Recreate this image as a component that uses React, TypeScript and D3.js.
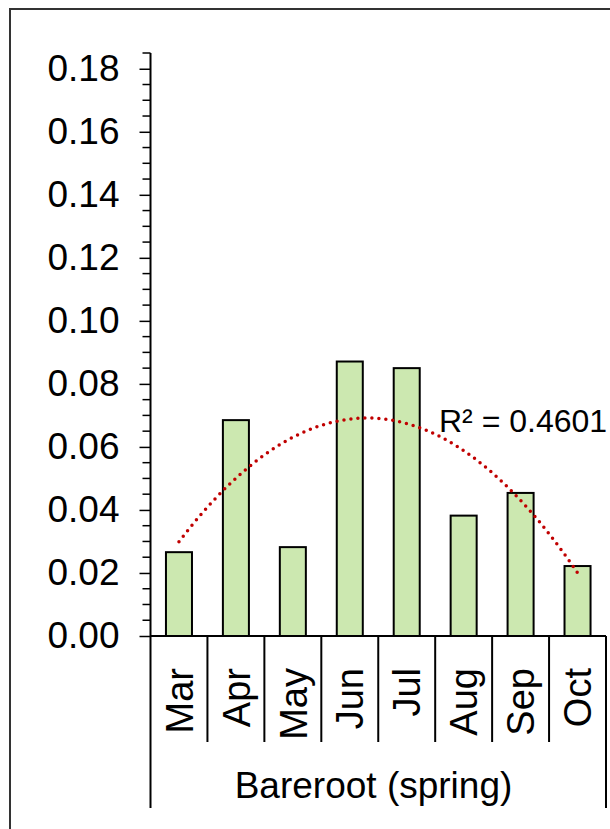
import React, { useEffect, useRef } from 'react';
import * as d3 from 'd3';

const months = ['Mar', 'Apr', 'May', 'Jun', 'Jul', 'Aug', 'Sep', 'Oct'];
const values = [0.0266, 0.0685, 0.0282, 0.0871, 0.085, 0.0382, 0.0454, 0.0222];
const yMajorTicks = [0, 0.02, 0.04, 0.06, 0.08, 0.1, 0.12, 0.14, 0.16, 0.18];
const yMinorStep = 0.005;
const yMax = 0.185;
const groupLabel = 'Bareroot (spring)';
const r2Label = 'R\u00b2 = 0.4601';

const FONT = '"Liberation Sans", Arial, sans-serif';

// least squares fit of a 2nd order polynomial (what the spreadsheet trendline does)
function polyFit2(xs: number[], ys: number[]) {
    const s = (f: (x: number, y: number) => number) => d3.sum(xs, (x, i) => f(x, ys[i]));
    const m = [
        [xs.length, s(x => x), s(x => x * x), s((x, y) => y)],
        [s(x => x), s(x => x * x), s(x => x ** 3), s((x, y) => x * y)],
        [s(x => x * x), s(x => x ** 3), s(x => x ** 4), s((x, y) => x * x * y)],
    ];
    for (let i = 0; i < 3; i++) {
        for (let k = i + 1; k < 3; k++) {
            const f = m[k][i] / m[i][i];
            for (let j = i; j < 4; j++) m[k][j] -= f * m[i][j];
        }
    }
    const c = [0, 0, 0];
    for (let i = 2; i >= 0; i--) {
        let v = m[i][3];
        for (let j = i + 1; j < 3; j++) v -= m[i][j] * c[j];
        c[i] = v / m[i][i];
    }
    return (x: number) => c[0] + c[1] * x + c[2] * x * x;
}

const App: React.FC = () => {
    const svgRef = useRef<SVGSVGElement>(null);

    useEffect(() => {
        if (!svgRef.current) return;
        const svg = d3.select(svgRef.current);
        svg.selectAll('*').remove();

        const left = 150.5, right = 606, top = 53, bottom = 636;

        // outer frame (runs off the page on the right and bottom)
        svg.append('rect')
            .attr('x', 10).attr('y', 9)
            .attr('width', 700).attr('height', 900)
            .attr('fill', '#fff')
            .attr('stroke', '#333').attr('stroke-width', 2);

        const x = d3.scaleBand<string>()
            .domain(months)
            .range([left, right])
            .paddingInner(0.543)
            .paddingOuter(0.2715);

        const y = d3.scaleLinear().domain([0, yMax]).range([bottom, top]);

        // bars
        svg.append('g').selectAll('rect')
            .data(values)
            .join('rect')
            .attr('x', (d, i) => x(months[i])!)
            .attr('y', d => y(d))
            .attr('width', x.bandwidth())
            .attr('height', d => y(0) - y(d))
            .attr('fill', '#CCE8B0')
            .attr('stroke', '#000')
            .attr('stroke-width', 2);

        // y axis: minor ticks
        const minorTicks = d3.range(0, yMax + 1e-9, yMinorStep)
            .filter(v => !yMajorTicks.some(t => Math.abs(t - v) < 1e-9));
        svg.append('g')
            .selectAll('line')
            .data(minorTicks)
            .join('line')
            .attr('x1', left - 8).attr('x2', left)
            .attr('y1', d => y(d)).attr('y2', d => y(d))
            .attr('stroke', '#000').attr('stroke-width', 1.5);

        const yAxisG = svg.append('g').attr('transform', `translate(${left},0)`);
        yAxisG.call(d3.axisLeft(y)
            .tickValues(yMajorTicks)
            .tickSize(11)
            .tickPadding(20)
            .tickFormat(d3.format('.2f')) as any);
        yAxisG.select('.domain').attr('d', `M0,${top}V${bottom}`).attr('stroke-width', 2);
        yAxisG.selectAll('.tick line').attr('stroke-width', 1.5);
        yAxisG.selectAll('text')
            .attr('fill', '#000')
            .style('font-family', FONT)
            .style('font-size', '37px');

        // x axis: baseline + category separators
        const step = x.step();
        const ax = svg.append('g');
        ax.append('line')
            .attr('x1', left).attr('x2', right)
            .attr('y1', bottom).attr('y2', bottom)
            .attr('stroke', '#000').attr('stroke-width', 2);
        ax.selectAll('.sep')
            .data(d3.range(months.length + 1))
            .join('line')
            .attr('class', 'sep')
            .attr('x1', i => left + i * step).attr('x2', i => left + i * step)
            .attr('y1', bottom)
            .attr('y2', i => (i === 0 || i === months.length ? 808 : 742))
            .attr('stroke', '#000').attr('stroke-width', 2);

        ax.selectAll('.mlab')
            .data(months)
            .join('text')
            .attr('class', 'mlab')
            .attr('transform', d => `translate(${x(d)! + x.bandwidth() / 2},668) rotate(-90)`)
            .attr('dy', '0.36em')
            .attr('text-anchor', 'end')
            .style('font-family', FONT)
            .style('font-size', '38px')
            .text(d => d);

        ax.append('text')
            .attr('x', 373.5)
            .attr('y', 798)
            .attr('text-anchor', 'middle')
            .style('font-family', FONT)
            .style('font-size', '37px')
            .text(groupLabel);

        // polynomial trendline
        const fit = polyFit2(values.map((_, i) => i + 1), values);
        const xt = d3.scaleLinear()
            .domain([1, months.length])
            .range([x(months[0])! + x.bandwidth() / 2, x(months[months.length - 1])! + x.bandwidth() / 2]);
        const pts = d3.range(1, months.length + 0.0001, 0.05);
        const line = d3.line<number>().x(t => xt(t)).y(t => y(fit(t)));
        svg.append('path')
            .attr('d', line(pts)!)
            .attr('fill', 'none')
            .attr('stroke', '#C00000')
            .attr('stroke-width', 3.5)
            .attr('stroke-linecap', 'round')
            .attr('stroke-dasharray', '0 7');

        svg.append('text')
            .attr('x', 439)
            .attr('y', 432)
            .style('font-family', FONT)
            .style('font-size', '32px')
            .text(r2Label);
    }, []);

    return (
        <div style={{ position: 'absolute', left: 0, top: 0 }}>
            <svg ref={svgRef} width={610} height={829} style={{ display: 'block' }} />
        </div>
    );
};

export default App;
